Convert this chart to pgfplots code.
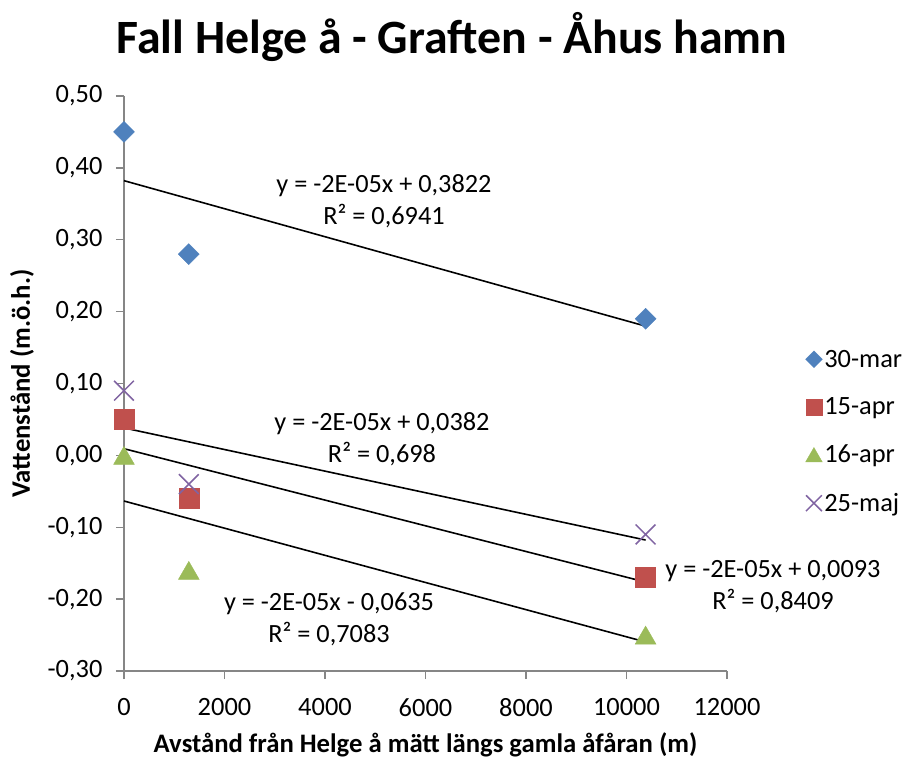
\documentclass[border=0pt]{standalone}
\usepackage{pgfplots}
\pgfplotsset{compat=1.18}
\usepackage{fontspec}
\setmainfont{Carlito}
\definecolor{cblue}{HTML}{4F81BD}
\definecolor{cred}{HTML}{C0504D}
\definecolor{cgreen}{HTML}{9BBB59}
\definecolor{cpurple}{HTML}{8064A2}
\definecolor{axgray}{HTML}{868686}
\begin{document}
\begin{tikzpicture}[font=\fontsize{26.5}{33}\selectfont]
\begin{axis}[
  at={(0,0)}, anchor=south west,
  scale only axis, width=603bp, height=575bp,
  xmin=0, xmax=12000, ymin=-0.3, ymax=0.5,
  xtick={0,2000,4000,6000,8000,10000,12000},
  ytick={-0.3,-0.2,-0.1,0,0.1,0.2,0.3,0.4,0.5},
  axis x line*=bottom, axis y line*=left,
  axis line style={draw=axgray, line width=1.3bp, -},
  tick style={draw=axgray, line width=1.3bp},
  major tick length=8bp,
  tick align=outside,
  /pgf/number format/assume math mode=true,
  x tick label style={/pgf/number format/1000 sep={}, yshift=-16bp},
  y tick label style={/pgf/number format/fixed, /pgf/number format/fixed zerofill, /pgf/number format/precision=2, /pgf/number format/use comma, xshift=-10bp},
  scaled ticks=false,
  clip=false,
  title={\bfseries Fall Helge å - Graften - Åhus hamn},
  title style={font=\fontsize{48}{56}\selectfont, at={(axis description cs:0.5439,1.0922)}, anchor=center},
  xlabel={\bfseries Avstånd från Helge å mätt längs gamla åfåran (m)},
  xlabel style={font=\fontsize{26.8}{32}\selectfont, at={(axis description cs:0.5,-0.1287)}, anchor=center},
  ylabel={\bfseries Vattenstånd (m.ö.h.)},
  ylabel style={font=\fontsize{26.8}{32}\selectfont, at={(axis description cs:-0.169,0.5)}, anchor=center},
  legend style={at={(axis description cs:1.125,0.4165)}, anchor=west, draw=none, fill=none,
    row sep=25bp, nodes={inner sep=2bp}},
  legend cell align=left,
  legend image code/.code={\draw[mark repeat=2,mark phase=2,#1,scale=0.8] plot coordinates {(0bp,0bp) (10bp,0bp) (20bp,0bp)};},
]
% trendlines
\addplot[black, line width=1.6bp, forget plot] coordinates {(0,0.3822) (10380,0.1798)};
\addplot[black, line width=1.6bp, forget plot] coordinates {(0,0.0382) (10380,-0.1178)};
\addplot[black, line width=1.6bp, forget plot] coordinates {(0,0.0093) (10380,-0.1763)};
\addplot[black, line width=1.6bp, forget plot] coordinates {(0,-0.0635) (10380,-0.2596)};
% data
\addplot[only marks, mark=square*, mark size=7.4bp, mark options={rotate=45, fill=cblue, draw=cblue}]
  coordinates {(0,0.45) (1290,0.28) (10380,0.19)};
\addlegendentry{30-mar}
\addplot[only marks, mark=square*, mark size=10bp, mark options={fill=cred, draw=cred}]
  coordinates {(0,0.05) (1290,-0.06) (10380,-0.17)};
\addlegendentry{15-apr}
\addplot[only marks, mark=triangle*, mark size=12bp, mark options={fill=cgreen, draw=cgreen, yshift=-3bp}]
  coordinates {(0,0.00) (1290,-0.16) (10380,-0.25)};
\addlegendentry{16-apr}
\addplot[only marks, mark=x, mark size=14bp, mark options={draw=cpurple, line width=1.5bp}]
  coordinates {(0,0.09) (1290,-0.04) (10380,-0.11)};
\addlegendentry{25-maj}
% trendline labels
\node[align=center, font=\fontsize{26.4}{32}\selectfont] at (axis cs:5174,0.354) {y = -2E-05x + 0,3822\\R² = 0,6941};
\node[align=center, font=\fontsize{26.4}{32}\selectfont] at (axis cs:5134,0.0228) {y = -2E-05x + 0,0382\\R² = 0,698};
\node[align=center, font=\fontsize{26.4}{32}\selectfont] at (axis cs:12915,-0.1831) {y = -2E-05x + 0,0093\\R² = 0,8409};
\node[align=center, font=\fontsize{26.4}{32}\selectfont] at (axis cs:4080,-0.2277) {y = -2E-05x - 0,0635\\R² = 0,7083};
\end{axis}
\pgfresetboundingbox
\useasboundingbox (-124bp,-90bp) rectangle (781bp,671bp);
\end{tikzpicture}
\end{document}
